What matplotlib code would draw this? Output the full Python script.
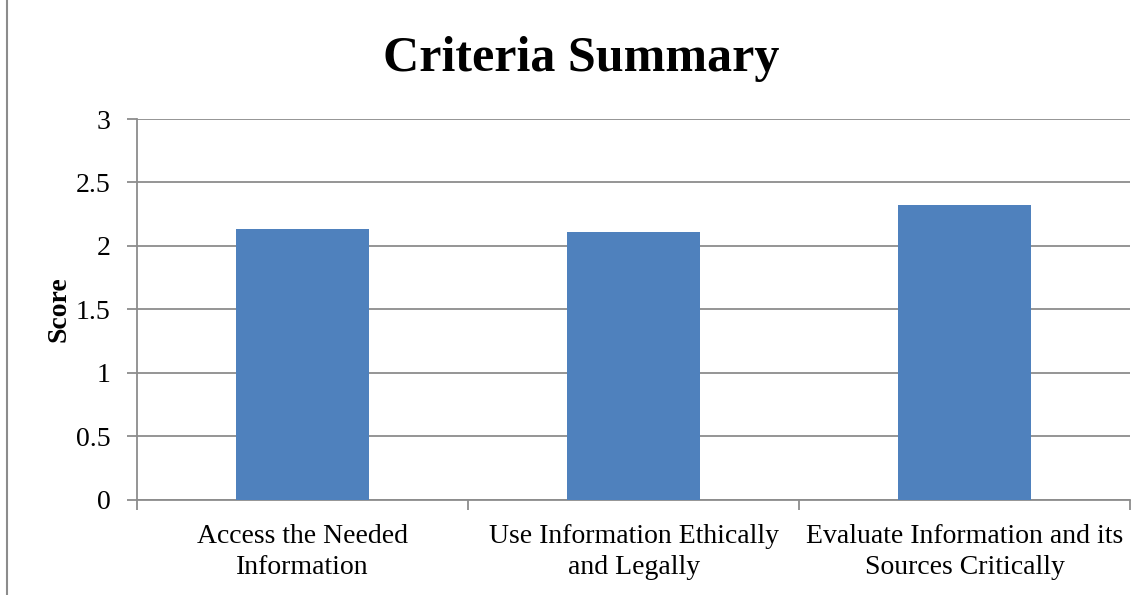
import matplotlib
matplotlib.use("Agg")
import matplotlib.pyplot as plt
from matplotlib.patches import Rectangle

categories = ["Access the Needed\nInformation",
              "Use Information Ethically\nand Legally",
              "Evaluate Information and its\nSources Critically"]
scores = [2.13, 2.11, 2.32]
yticks = [0, 0.5, 1, 1.5, 2, 2.5, 3]
ytick_labels = ["0", "0.5", "1", "1.5", "2", "2.5", "3"]

plt.rcParams['font.family'] = ['Liberation Serif', 'DejaVu Serif']

fig = plt.figure(figsize=(11.45, 5.95), dpi=100)
ax = fig.add_axes([0.1197, 0.1597, 0.8673, 0.6403])

x = list(range(len(categories)))
ax.bar(x, scores, width=0.4, color="#4f81bd", zorder=3)

ax.set_xlim(-0.5, len(categories) - 0.5)
ax.set_ylim(0, 3)
ax.set_yticks(yticks)
ax.set_yticklabels(ytick_labels, fontsize=20)
ax.yaxis.grid(True, color="#8c8c8c", linewidth=1.3, zorder=0)

# category labels between the boundary ticks
ax.set_xticks([i - 0.5 for i in range(len(categories) + 1)])
ax.set_xticklabels([])
ax.set_xticks(x, minor=True)
ax.set_xticklabels(categories, minor=True, fontsize=20, linespacing=1.35)
ax.tick_params(axis="x", which="minor", length=0, pad=17)
ax.tick_params(axis="both", which="major", length=7, color="#8c8c8c", width=1.3)
ax.tick_params(axis="y", pad=12)

for side in ["top", "right"]:
    ax.spines[side].set_visible(False)
for side in ["left", "bottom"]:
    ax.spines[side].set_color("#8c8c8c")
    ax.spines[side].set_linewidth(1.3)

ax.set_ylabel("Score", fontsize=20, fontweight="bold", labelpad=3)
fig.text(0.508, 0.9, "Criteria Summary", fontsize=36, fontweight="bold",
         ha="center", va="center")

fig.patches.append(Rectangle((0.006, -0.01), 1.2, 1.2, transform=fig.transFigure,
                             fill=False, edgecolor="#8c8c8c", linewidth=1.5))

fig.savefig("out.png", dpi=100)
